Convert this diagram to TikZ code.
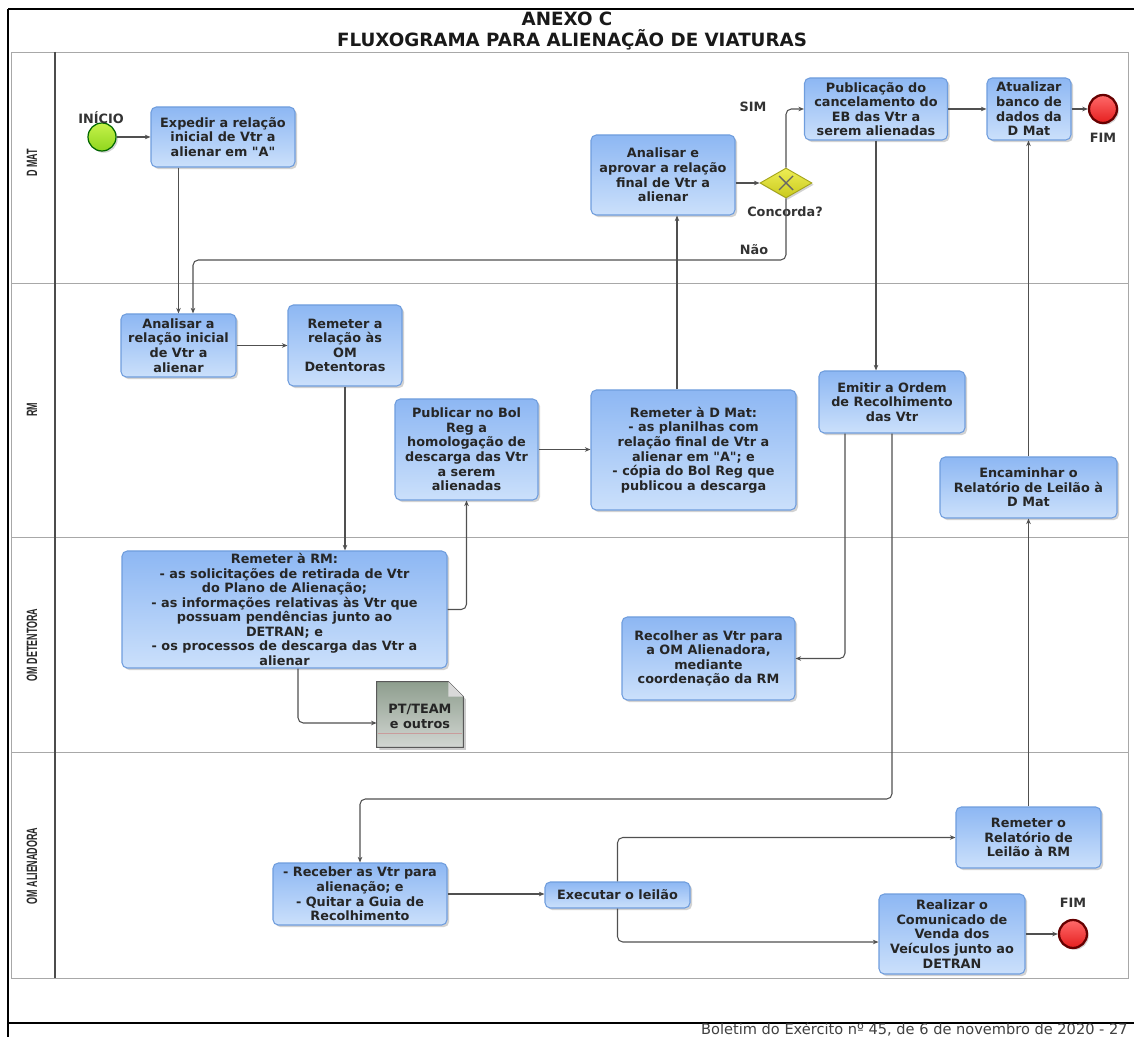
\documentclass[tikz,border=0pt]{standalone}
\usepackage{fontspec}
\newfontfamily\boxfont{DejaVu Sans}
\newfontfamily\lanefont{Liberation Sans}
\usetikzlibrary{arrows.meta,calc,shapes.geometric,shadows}

\definecolor{taskfill}{HTML}{8DB7F3}
\definecolor{taskfillb}{HTML}{CBE0FB}
\definecolor{taskline}{HTML}{6F9DDD}
\definecolor{flowgray}{HTML}{505050}
\definecolor{lanegray}{HTML}{A8A8A8}
\definecolor{startfill}{HTML}{C6F24A}
\definecolor{startfillb}{HTML}{8FD61E}
\definecolor{endfill}{HTML}{FF6A6A}
\definecolor{endfillb}{HTML}{E51E1E}
\definecolor{gatefill}{HTML}{EEEE55}
\definecolor{gatefillb}{HTML}{C9C91E}
\definecolor{docfill}{HTML}{8E9E8E}
\definecolor{docfillb}{HTML}{D2D6D2}

\begin{document}
\begin{tikzpicture}[x=0.02cm,y=-0.02cm]

\tikzset{
    task/.style 2 args={rectangle,rounded corners=3pt,draw=taskline,line width=0.6pt,
        top color=taskfill,bottom color=taskfillb,
        drop shadow={shadow xshift=1.2pt,shadow yshift=-1.2pt,fill=black!35},
        minimum width=#1*0.02cm,minimum height=#2*0.02cm,inner sep=1pt,align=center,
        font=\boxfont\bfseries\fontsize{7.3}{8.3}\selectfont,text=black!85},
    flow/.style={draw=flowgray,line width=0.6pt,-{Stealth[length=3.2pt,width=2.6pt]},rounded corners=3pt},
    lbl/.style={font=\boxfont\bfseries\fontsize{7.3}{8.3}\selectfont,text=black!80,align=center},
    lane/.style={rotate=90,font=\lanefont\bfseries\fontsize{8.5}{9}\selectfont,text=black!85},
    start/.style={circle,draw=green!40!black,line width=0.7pt,top color=startfill,bottom color=startfillb,
        minimum size=28*0.02cm,inner sep=0pt,drop shadow={shadow xshift=1pt,shadow yshift=-1pt,fill=black!35}},
    finish/.style={circle,draw=red!40!black,line width=1.3pt,top color=endfill,bottom color=endfillb,
        minimum size=28*0.02cm,inner sep=0pt,drop shadow={shadow xshift=1pt,shadow yshift=-1pt,fill=black!35}},
    gate/.style={diamond,aspect=1.8,draw=gatefillb!80!black,line width=0.5pt,top color=gatefill,bottom color=gatefillb,
        minimum width=52*0.02cm,minimum height=30*0.02cm,inner sep=0pt,
        drop shadow={shadow xshift=1pt,shadow yshift=-1pt,fill=black!35}},
    heading/.style={anchor=base,inner sep=0pt,font=\boxfont\bfseries\fontsize{10.4}{12}\selectfont,text=black!90},
}

\useasboundingbox (0,0) rectangle (1134,1037);

% moldura e raias
\draw[lanegray] (11,52) rectangle (1128,978);
\foreach \y in {283,537,752}
    \draw[lanegray] (11,\y) -- (1128,\y);
\draw[black!70,line width=1pt] (55,52) -- (55,978);
\draw[line width=1.3pt] (8,9) -- (1134,9);
\draw[line width=1.3pt] (8,9) -- (8,1037);
\draw[line width=1.3pt] (8,1023) -- (1134,1023);

\node[heading] (anexo) at (567,26) {ANEXO C};
\node[heading] (titulo) at (572,47) {FLUXOGRAMA PARA ALIENAÇÃO DE VIATURAS};

\node[lane] (laneDmat) at (32,163) {\scalebox{0.6}[1]{D MAT}};
\node[lane] (laneRm) at (32,410) {\scalebox{0.6}[1]{RM}};
\node[lane] (laneDet) at (32,645) {\scalebox{0.6}[1]{OM DETENTORA}};
\node[lane] (laneAl) at (32,866) {\scalebox{0.6}[1]{OM ALIENADORA}};

% D MAT
\node[start] (inicio) at (102,137) {};
\node[lbl] (inicioLbl) at (101,118) {INÍCIO};
\node[task={144}{60}] (expedir) at (223,137) {Expedir a relação\\inicial de Vtr a\\alienar em "A"};
\node[task={144}{80}] (aprovar) at (663,175) {Analisar e\\aprovar a relação\\final de Vtr a\\alienar};
\node[gate] (gw) at (786,183) {};
\draw[black!60,line width=0.8pt] ($(gw)+(-7,-7)$) -- ($(gw)+(7,7)$) ($(gw)+(-7,7)$) -- ($(gw)+(7,-7)$);
\node[lbl] (concorda) at (785,212) {Concorda?};
\node[lbl] (sim) at (753,107) {SIM};
\node[lbl] (nao) at (754,250) {Não};
\node[task={143}{62}] (publica) at (876,109) {Publicação do\\cancelamento do\\EB das Vtr a\\serem alienadas};
\node[task={84}{62}] (atualiza) at (1029,109) {Atualizar\\banco de\\dados da\\D Mat};
\node[finish] (fim1) at (1103,109) {};
\node[lbl] (fim1Lbl) at (1103,138) {FIM};

% RM
\node[task={115}{63}] (analini) at (178.5,345.5) {Analisar a\\relação inicial\\de Vtr a\\alienar};
\node[task={114}{81}] (remrel) at (345,345.5) {Remeter a\\relação às\\OM\\Detentoras};
\node[task={143}{101}] (publicar) at (466.5,449.5) {Publicar no Bol\\Reg a\\homologação de\\descarga das Vtr\\a serem\\alienadas};
\node[task={205}{120}] (remdmat) at (693.5,450) {Remeter à D Mat:\\- as planilhas com\\relação final de Vtr a\\alienar em "A"; e\\- cópia do Bol Reg que\\publicou a descarga};
\node[task={146}{62}] (emitir) at (892,402) {Emitir a Ordem\\de Recolhimento\\das Vtr};
\node[task={177}{61}] (encaminhar) at (1028.5,487.5) {Encaminhar o\\Relatório de Leilão à\\D Mat};

% OM DETENTORA
\node[task={325}{117}] (remrm) at (284.5,609.5) {Remeter à RM:\\- as solicitações de retirada de Vtr\\do Plano de Alienação;\\- as informações relativas às Vtr que\\possuam pendências junto ao\\DETRAN; e\\- os processos de descarga das Vtr a\\alienar};
\node[minimum width=86*0.02cm,minimum height=65*0.02cm,inner sep=0pt] (pt) at (420,714.5) {};
\path[draw=black!65,line width=0.6pt,top color=docfill,bottom color=docfillb,
    drop shadow={shadow xshift=1.5pt,shadow yshift=-1.5pt,fill=black!40}]
    (pt.north west) -- ($(pt.north east)+(-15,0)$) -- ($(pt.north east)+(0,15)$)
    -- (pt.south east) -- (pt.south west) -- cycle;
\fill[black!15] ($(pt.north east)+(-15,0)$) -- ($(pt.north east)+(-15,15)$) -- ($(pt.north east)+(0,15)$) -- cycle;
\draw[red!30!gray!60,line width=0.4pt] ($(pt.south west)+(1,-14)$) -- ($(pt.south east)+(-1,-14)$);
\node[lbl,text=black!85] (ptLbl) at ($(pt)+(0,2)$) {PT/TEAM\\e outros};
\node[task={173}{83}] (recolher) at (708.5,658.5) {Recolher as Vtr para\\a OM Alienadora,\\mediante\\coordenação da RM};

% OM ALIENADORA
\node[task={174}{62}] (receber) at (360,894) {- Receber as Vtr para\\alienação; e\\- Quitar a Guia de\\Recolhimento};
\node[task={145}{26}] (executar) at (617.5,895) {Executar o leilão};
\node[task={145}{61}] (remrelrm) at (1028.5,837.5) {Remeter o\\Relatório de\\Leilão à RM};
\node[task={146}{80}] (realizar) at (952,934) {Realizar o\\Comunicado de\\Venda dos\\Veículos junto ao\\DETRAN};
\node[finish] (fim2) at (1073,934) {};
\node[lbl] (fim2Lbl) at (1073,903) {FIM};

% fluxos
\coordinate (naoTurn) at (193,260);
\coordinate (recTurn) at (360,799);

\draw[flow] (inicio) -- (expedir);
\draw[flow] (expedir.south -| analini.north) -- (analini.north);
\draw[flow] (gw.south) |- (naoTurn) -- (naoTurn |- analini.north);
\draw[flow] (analini) -- (remrel);
\draw[flow] (remrel.south) -- (remrel.south |- remrm.north);
\draw[flow] (remrm.east) -| (publicar.south);
\draw[flow] (publicar.east) -- (publicar.east -| remdmat.west);
\draw[flow] ($(remdmat.north)+(-16.5,0)$) -- ($(aprovar.south)+(14,0)$);
\draw[flow] (aprovar.east |- gw.west) -- (gw.west);
\draw[flow] (gw.north) |- (publica.west);
\draw[flow] (publica) -- (atualiza);
\draw[flow] (atualiza) -- (fim1);
\draw[flow] (publica.south) -- (publica.south |- emitir.north);
\draw[flow] ($(emitir.south)+(-47,0)$) |- (recolher.east);
\draw[flow] (emitir.south) |- (recTurn) -- (receber.north);
\draw[flow] ($(remrm.south)+(13.5,0)$) |- ($(pt.west)+(0,8.5)$);
\draw[flow] (receber.east) -- (receber.east -| executar.west);
\draw[flow] (executar.north) |- (remrelrm.west);
\draw[flow] (executar.south) |- ($(realizar.west)+(0,8)$);
\draw[flow] (remrelrm.north) -- (remrelrm.north |- encaminhar.south);
\draw[flow] (encaminhar.north) -- (encaminhar.north |- atualiza.south);
\draw[flow] (realizar) -- (fim2);

\node[anchor=base east,font=\boxfont\fontsize{8.3}{9}\selectfont,text=black!75,inner sep=0pt] (rodape) at (1128,1034) {Boletim do Exército nº 45, de 6 de novembro de 2020 - 27};

\end{tikzpicture}
\end{document}
